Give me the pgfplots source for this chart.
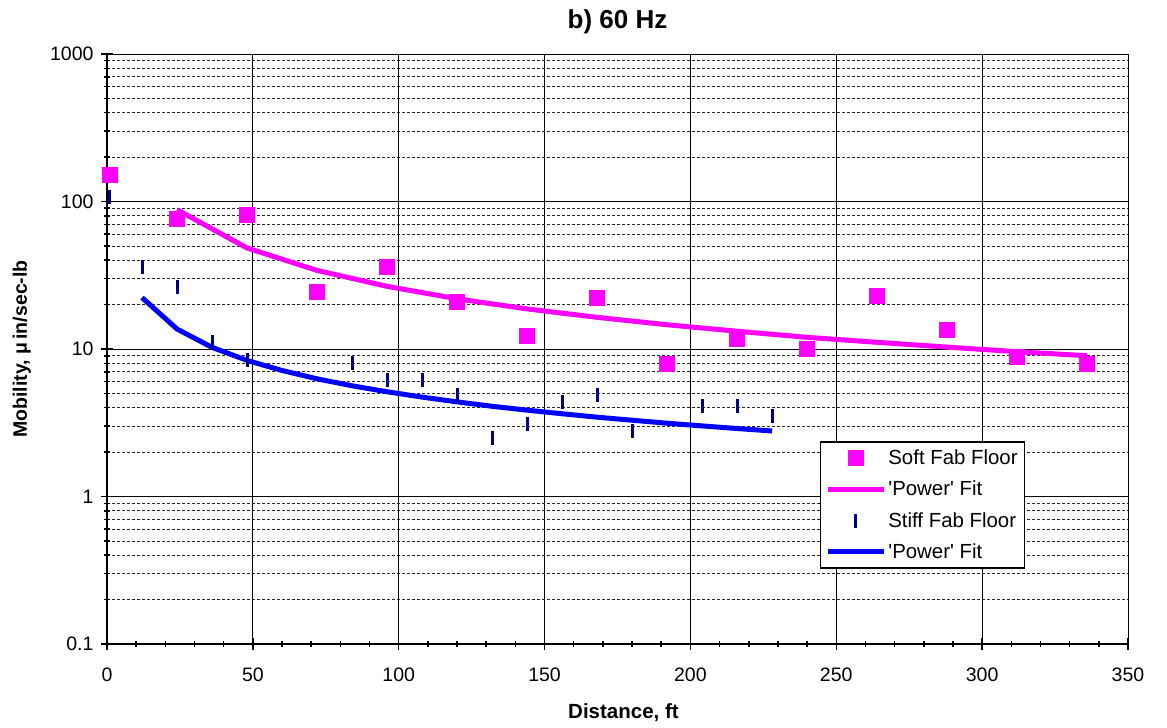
\documentclass[border=0pt]{standalone}
\usepackage{fontspec}
\setmainfont{Liberation Sans}
\usepackage{pgfplots}
\usepackage{pgfplotstable}
\pgfplotsset{compat=1.18}

\definecolor{softpink}{RGB}{255,0,255}
\definecolor{fitblue}{RGB}{0,0,255}
\definecolor{stiffnavy}{RGB}{0,0,128}

% Soft fab floor: measured mobility vs distance
\pgfplotstableread{
x y
1 152
24 76
48 81
72 24.3
96 36.1
120 20.9
144 12.3
168 22.3
192 8.0
216 11.8
240 10.1
264 23.0
288 13.6
312 8.8
336 7.9
}\softdata

% Power-law fit for the soft floor, evaluated at the measurement distances
\pgfplotstableread{
x y
24 88
48 48.4
72 34.1
96 26.6
120 21.9
144 18.7
168 16.4
192 14.6
216 13.2
240 12.0
264 11.1
288 10.3
312 9.59
336 9.00
}\softfit

% Stiff fab floor: measured mobility vs distance
\pgfplotstableread{
x y
1 108
12 36
24 26.5
36 11.1
48 8.4
84 8.0
96 6.2
108 6.2
120 4.9
132 2.5
144 3.1
156 4.4
168 4.9
180 2.8
204 4.1
216 4.1
228 3.5
}\stiffdata

% Power-law fit for the stiff floor
\pgfplotstableread{
x y
12 22.3
24 13.66
36 10.26
48 8.37
60 7.15
72 6.28
84 5.63
96 5.13
108 4.72
120 4.38
132 4.09
144 3.85
156 3.64
168 3.45
180 3.29
192 3.14
204 3.01
216 2.89
228 2.78
}\stifffit

\begin{document}
\begin{tikzpicture}
\path[use as bounding box] (-107pt,-84pt) rectangle (1060pt,644pt);
\begin{axis}[
  at={(0pt,0pt)}, anchor=south west,
  scale only axis, width=1021pt, height=590pt,
  clip=false,
  ymode=log,
  xmin=0, xmax=350, ymin=0.1, ymax=1000,
  xtick={0,50,...,350}, minor x tick num=4,
  ytick={0.1,1,10,100,1000},
  yticklabels={0.1,1,10,100,1000},
  axis x line*=bottom, axis y line*=left,
  axis line style={black, line width=2pt},
  xmajorgrids=true, ymajorgrids=true, yminorgrids=true,
  major grid style={black, line width=0.9pt},
  minor grid style={black!85, line width=0.8pt, dash pattern=on 3pt off 2pt},
  tick style={black, line width=1.5pt},
  major tick length=12pt, minor tick length=6pt,
  tick align=center,
  /pgf/number format/assume math mode=true,
  ticklabel style={font=\fontsize{19.5}{22}\selectfont},
  xticklabel style={yshift=-14pt},
  yticklabel style={xshift=-4pt},
  title={b) 60 Hz},
  title style={font=\bfseries\fontsize{26}{30}\selectfont,
    at={(axis description cs:0.5,1)}, anchor=center, yshift=26pt},
  xlabel={Distance, ft},
  xlabel style={font=\bfseries\fontsize{20.5}{24}\selectfont,
    at={(axis description cs:0.5,0)}, anchor=center, yshift=-69pt, xshift=6pt},
  ylabel={Mobility, μ\,in/sec-lb},
  ylabel style={font=\bfseries\fontsize{19.5}{23}\selectfont,
    at={(axis description cs:-0.0833,0.5)}, anchor=center},
  legend image code/.code={%
    \draw[mark repeat=2, mark phase=2, #1]
      plot coordinates {(0pt,0pt) (28pt,0pt) (56pt,0pt)};},
  legend style={
    at={(axis description cs:0.698,0.344)}, anchor=north west,
    draw=black, line width=1.5pt, fill=white,
    font=\fontsize{20.4}{24}\selectfont,
    inner xsep=5pt, inner ysep=6pt, row sep=11pt,
    cells={anchor=west}},
  legend cell align=left,
]
% fitted curves first, measured points on top
\addplot[softpink, line width=5pt, no marks, forget plot] table {\softfit};
\addplot[fitblue, line width=5pt, no marks, forget plot] table {\stifffit};
\addplot[only marks, mark=square*, mark size=7.5pt, softpink,
  mark options={line width=0.4pt}, forget plot] table {\softdata};
\addplot[only marks, mark=|, mark size=7pt, stiffnavy,
  mark options={line width=3pt}, forget plot] table {\stiffdata};

\addlegendimage{only marks, mark=square*, mark size=7.5pt, softpink, mark options={line width=0.4pt}}
\addlegendentry{Soft Fab Floor}
\addlegendimage{softpink, line width=5pt, no marks}
\addlegendentry{\textquotesingle Power\textquotesingle{} Fit}
\addlegendimage{only marks, mark=|, mark size=7pt, stiffnavy, mark options={line width=3pt}}
\addlegendentry{Stiff Fab Floor}
\addlegendimage{fitblue, line width=5pt, no marks}
\addlegendentry{\textquotesingle Power\textquotesingle{} Fit}
\end{axis}
\end{tikzpicture}
\end{document}
